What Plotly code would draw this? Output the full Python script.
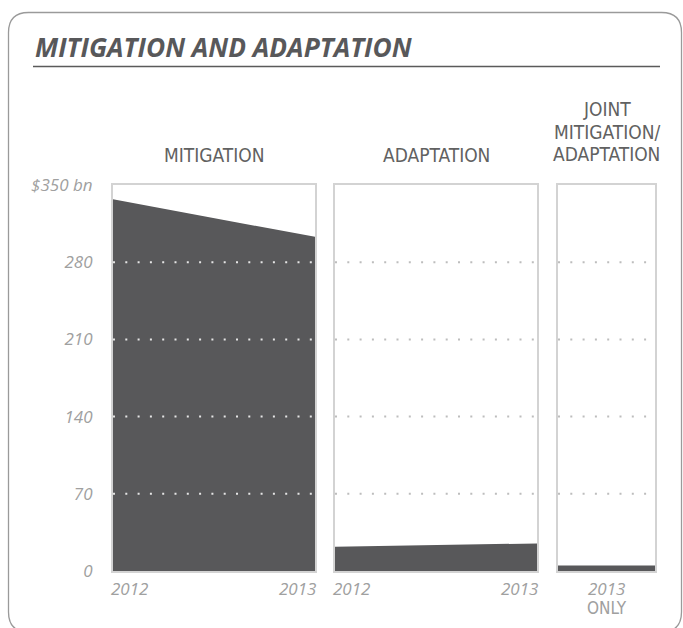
import plotly.graph_objects as go

W, H = 683, 628

# ---- data ----
years = [2012, 2013]
year_labels = ["2012", "2013"]
mitigation = [337, 303]
adaptation = [22, 25]
joint_cat = ["2013 only"]
joint = [5]
joint_labels = ["2013", "ONLY"]
ytick_vals = [0, 70, 140, 210, 280, 350]
ytick_text = ["0", "70", "140", "210", "280", "$350 bn"]
grid_vals = [70, 140, 210, 280]
title = "MITIGATION AND ADAPTATION"
panel_titles = ["MITIGATION", "ADAPTATION"]
joint_title = ["JOINT", "MITIGATION/", "ADAPTATION"]

FILL = "#58585a"
BORDER = "#d3d3d3"
TICK_C = "#a0a0a0"
LABEL_C = "#616161"
NARROW = "DejaVu Sans Condensed, Liberation Sans Narrow, sans-serif"
ITAL = "Open Sans, Lato, sans-serif"


def px(x):
    return x / W


def py(y):
    return 1 - y / H


fig = go.Figure()
fig.add_trace(go.Scatter(x=years, y=mitigation, xaxis="x", yaxis="y", mode="lines",
                         fill="tozeroy", fillcolor=FILL, line=dict(width=0, color=FILL),
                         hoverinfo="skip"))
fig.add_trace(go.Scatter(x=years, y=adaptation, xaxis="x2", yaxis="y2", mode="lines",
                         fill="tozeroy", fillcolor=FILL, line=dict(width=0, color=FILL),
                         hoverinfo="skip"))
fig.add_trace(go.Bar(x=joint_cat, y=joint, xaxis="x3", yaxis="y3", width=1,
                     marker=dict(color=FILL, line=dict(width=0)), hoverinfo="skip"))

ax_common = dict(showgrid=False, zeroline=False, showline=True, mirror=True,
                 linecolor=BORDER, linewidth=2, fixedrange=True, automargin=False)

domains = [(113, 315), (335, 537), (558, 655)]
ydom = [py(571), py(185)]

fig.update_layout(
    width=W, height=H, autosize=False,
    margin=dict(l=0, r=0, t=0, b=0, pad=0),
    paper_bgcolor="white", plot_bgcolor="white",
    showlegend=False,
    xaxis=dict(domain=[px(domains[0][0]), px(domains[0][1])], range=[2012, 2013],
               showticklabels=False, ticks="", anchor="y", **ax_common),
    yaxis=dict(domain=ydom, range=[0, 350], tickvals=ytick_vals, ticktext=ytick_text,
               ticks="", ticklabelstandoff=15, anchor="x",
               tickfont=dict(family=ITAL, size=17, color=TICK_C, style="italic"),
               **ax_common),
    xaxis2=dict(domain=[px(domains[1][0]), px(domains[1][1])], range=[2012, 2013],
                showticklabels=False, ticks="", anchor="y2", **ax_common),
    yaxis2=dict(domain=ydom, range=[0, 350], showticklabels=False, ticks="",
                anchor="x2", **ax_common),
    xaxis3=dict(domain=[px(domains[2][0]), px(domains[2][1])], type="category",
                range=[-0.5, 0.5], showticklabels=False, ticks="", anchor="y3", **ax_common),
    yaxis3=dict(domain=ydom, range=[0, 350], showticklabels=False, ticks="",
                anchor="x3", **ax_common),
)

shapes = []
# dotted gridlines over the panels
for i, ax in enumerate(["", "2", "3"]):
    col = "#e6e6e6" if i == 0 else "#bdbdbd"
    for v in grid_vals:
        shapes.append(dict(type="line", xref=f"x{ax} domain", yref=f"y{ax}",
                           x0=0, x1=1, y0=v, y1=v, layer="above",
                           line=dict(color=col, width=2, dash="2px,10.3px")))

# title underline
shapes.append(dict(type="line", xref="paper", yref="paper", x0=px(33), x1=px(660),
                   y0=py(66.5), y1=py(66.5), line=dict(color="#5a5a5a", width=1.3)))

# rounded frame
L, R, T, B, r = 8.5, 681.5, 12.5, 632, 20
path = (f"M {px(L)},{py(B - r)} L {px(L)},{py(T + r)} "
        f"Q {px(L)},{py(T)} {px(L + r)},{py(T)} "
        f"L {px(R - r)},{py(T)} Q {px(R)},{py(T)} {px(R)},{py(T + r)} "
        f"L {px(R)},{py(B - r)} Q {px(R)},{py(B)} {px(R - r)},{py(B)} "
        f"L {px(L + r)},{py(B)} Q {px(L)},{py(B)} {px(L)},{py(B - r)} Z")
shapes.append(dict(type="path", xref="paper", yref="paper", path=path,
                   line=dict(color="#9a9a9a", width=1.3)))

annotations = []
# title
annotations.append(dict(text=title, xref="paper", yref="paper", x=px(33), y=py(47),
                        xanchor="left", yanchor="middle", showarrow=False,
                        font=dict(family="Open Sans, sans-serif", size=26.3, color="#58585a",
                                  weight="bold", style="italic")))
# panel titles
for i, t in enumerate(panel_titles):
    ax = "" if i == 0 else str(i + 1)
    annotations.append(dict(text=t, xref=f"x{ax} domain", yref="paper", x=0.5, y=py(155),
                            xanchor="center", yanchor="middle", showarrow=False,
                            font=dict(family=NARROW, size=19, color=LABEL_C)))
for t, yy in zip(joint_title, [109.5, 132, 154.5]):
    annotations.append(dict(text=t, xref="x3 domain", yref="paper", x=0.5, y=py(yy),
                            xanchor="center", yanchor="middle", showarrow=False,
                            font=dict(family=NARROW, size=19, color=LABEL_C)))

# year labels
for ax in ["", "2"]:
    annotations.append(dict(text=year_labels[0], xref=f"x{ax}", yref="paper", x=years[0],
                            y=py(588), xanchor="left", yanchor="middle", xshift=-4,
                            showarrow=False,
                            font=dict(family=ITAL, size=17, color=TICK_C, style="italic")))
    annotations.append(dict(text=year_labels[1], xref=f"x{ax}", yref="paper", x=years[1],
                            y=py(588), xanchor="right", yanchor="middle", xshift=3,
                            showarrow=False,
                            font=dict(family=ITAL, size=17, color=TICK_C, style="italic")))
annotations.append(dict(text=joint_labels[0], xref="x3 domain", yref="paper", x=0.5,
                        y=py(588), xanchor="center", yanchor="middle", showarrow=False,
                        font=dict(family=ITAL, size=17, color=TICK_C, style="italic")))
annotations.append(dict(text=joint_labels[1], xref="x3 domain", yref="paper", x=0.5,
                        y=py(608), xanchor="center", yanchor="middle", showarrow=False,
                        font=dict(family=NARROW, size=17, color=TICK_C)))

fig.update_layout(shapes=shapes, annotations=annotations)
fig.write_html("out.html", config={"responsive": False, "displayModeBar": False})
